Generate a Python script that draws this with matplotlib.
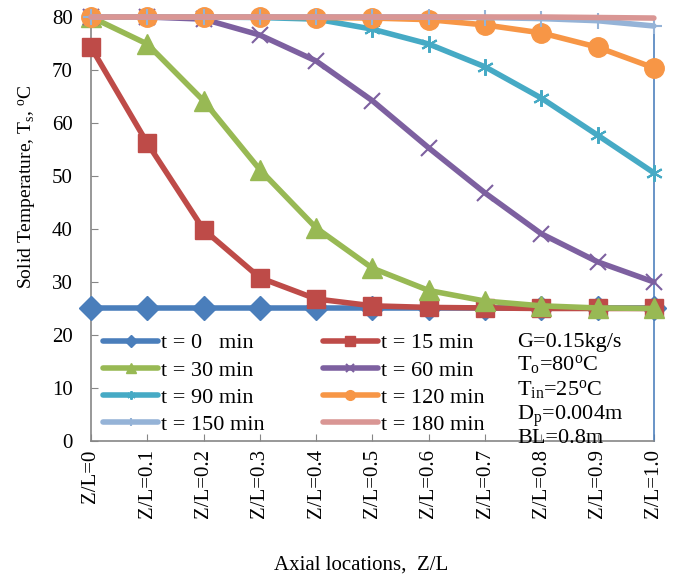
import matplotlib

matplotlib.use("Agg")
import matplotlib.pyplot as plt
import numpy as np

plt.rcParams["font.family"] = ["Liberation Serif", "DejaVu Serif"]
plt.rcParams["mathtext.fontset"] = "custom"
plt.rcParams["mathtext.rm"] = "Liberation Serif"
plt.rcParams["mathtext.it"] = "Liberation Serif:italic"

# axial positions (categories) and solid temperature profiles, degC
zl_labels = ["Z/L=0", "Z/L=0.1", "Z/L=0.2", "Z/L=0.3", "Z/L=0.4", "Z/L=0.5",
             "Z/L=0.6", "Z/L=0.7", "Z/L=0.8", "Z/L=0.9", "Z/L=1.0"]
t0 = [25, 25, 25, 25, 25, 25, 25, 25, 25, 25, 25]
t15 = [74.3, 56.2, 39.9, 30.8, 26.8, 25.5, 25.2, 25.1, 25.0, 25.0, 25.0]
t30 = [80.0, 74.9, 64.2, 51.2, 40.2, 32.6, 28.4, 26.4, 25.5, 25.1, 25.0]
t60 = [80.0, 80.0, 79.6, 76.6, 71.7, 64.2, 55.3, 46.8, 39.1, 33.8, 30.0]
t90 = [80.0, 80.0, 80.0, 79.9, 79.6, 77.7, 74.9, 70.6, 64.7, 57.7, 50.6]
t120 = [80.0, 80.0, 80.0, 80.0, 79.9, 79.8, 79.5, 78.5, 77.0, 74.3, 70.4]
t150 = [80.0, 80.0, 80.0, 80.0, 80.0, 80.0, 80.0, 79.9, 79.7, 79.3, 78.3]
t180 = [80.0, 80.0, 80.0, 80.0, 80.0, 80.0, 80.0, 80.0, 80.0, 79.9, 79.8]

series = [
    ("t = 0   min", t0, "#4a7ebb", "D", 12),
    ("t = 15 min", t15, "#be4b48", "s", 13),
    ("t = 30 min", t30, "#98b954", "^", 14),
    ("t = 60 min", t60, "#7d60a0", "x", 12),
    ("t = 90 min", t90, "#46aac5", (6, 2, 0), 12),
    ("t = 120 min", t120, "#f79646", "o", 14),
    ("t = 150 min", t150, "#95b3d7", "+", 12),
    ("t = 180 min", t180, "#d99694", None, 0),
]

x = np.arange(len(zl_labels))

fig = plt.figure(figsize=(6.79, 5.80), dpi=100)
ax = fig.add_axes([0.134, 0.2397, 0.829, 0.731])

handles = []
for label, vals, color, marker, ms in series:
    h, = ax.plot(x, vals, color=color, lw=4, marker=marker, ms=ms,
                 mew=1.5 if marker in ("x", "+", (6, 2, 0)) else 1,
                 mec=color, label=label, clip_on=False, zorder=3,
                 solid_capstyle="round")
    handles.append(h)

ax.set_xlim(0, len(zl_labels) - 1)
ax.set_ylim(0, 80)
ax.set_yticks(range(0, 81, 10))
ax.set_xticks(x)
ax.set_xticklabels(zl_labels, rotation=90)
ax.tick_params(axis="both", direction="in", length=5, color="#868686",
               labelsize=15)
ax.tick_params(axis="y", pad=13)
ax.tick_params(axis="x", pad=6)

for side in ("left", "bottom"):
    ax.spines[side].set_color("#868686")
    ax.spines[side].set_linewidth(1.2)
ax.spines["top"].set_visible(False)
ax.spines["right"].set_color("#4f81bd")
ax.spines["right"].set_linewidth(1.2)

ax.set_ylabel("Solid Temperature, T$_\\mathregular{s}$, $^\\mathregular{o}$C",
              fontsize=14)
ax.yaxis.set_label_coords(-0.094, 0.60)
fig.text(0.532, 0.026, "Axial locations,  Z/L", ha="center", va="center",
         fontsize=15)

# legend is row-major in the original, matplotlib fills columns first
order = [0, 2, 4, 6, 1, 3, 5, 7]
ax.legend([handles[i] for i in order], [series[i][0] for i in order],
          loc="upper left", bbox_to_anchor=(0.021, 0.255), ncol=2,
          frameon=False, fontsize=16, handlelength=2.5, markerscale=0.5,
          handletextpad=0.13, columnspacing=2.6, labelspacing=0.3,
          borderpad=0, borderaxespad=0)

params = ["G=0.15kg/s",
          "T$_\\mathregular{o}$=80$^\\mathregular{o}$C",
          "T$_\\mathregular{in}$=25$^\\mathregular{o}$C",
          "D$_\\mathregular{p}$=0.004m",
          "BL=0.8m"]
param_y = [0.222, 0.167, 0.108, 0.05, -0.005]
for txt, yy in zip(params, param_y):
    ax.text(0.757, yy, txt, transform=ax.transAxes, fontsize=16,
            va="baseline")

fig.savefig("out.png", dpi=100)
